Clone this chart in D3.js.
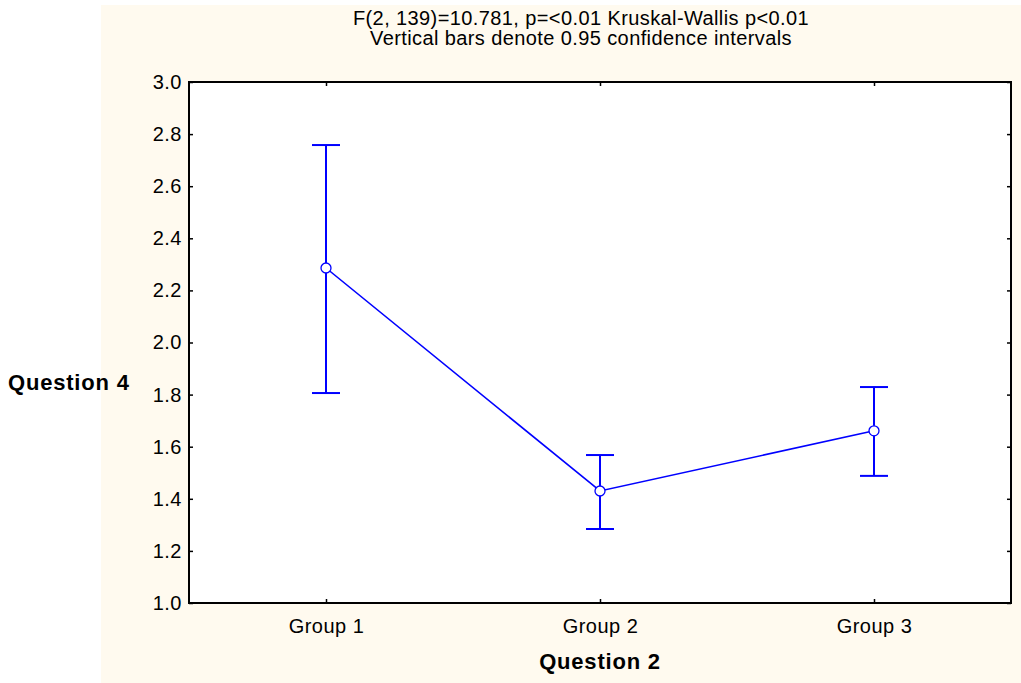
<!DOCTYPE html>
<html><head><meta charset="utf-8">
<script src="https://cdn.jsdelivr.net/npm/d3@7"></script>
<style>body{margin:0;background:#fff}svg{display:block}text{font-family:"Liberation Sans",Arial,sans-serif}</style>
</head><body>
<svg id="c" width="1021" height="683"></svg>
<script>
const categories = ["Group 1", "Group 2", "Group 3"];
const means = [2.286, 1.430, 1.661];
const upper = [2.758, 1.568, 1.829];
const lower = [1.806, 1.284, 1.488];
const yTicks = [1.0, 1.2, 1.4, 1.6, 1.8, 2.0, 2.2, 2.4, 2.6, 2.8, 3.0];
const titleLines = ["F(2, 139)=10.781, p=<0.01 Kruskal-Wallis p<0.01", "Vertical bars denote 0.95 confidence intervals"];
const xTitle = "Question 2", yTitle = "Question 4";

const svg = d3.select("#c");
const L = 189, T = 82, R = 1011, B = 603;
const blue = "#0000ff";

svg.append("rect").attr("x",101).attr("y",5).attr("width",920).attr("height",678).attr("fill","#fffaef");
svg.append("rect").attr("x",L).attr("y",T).attr("width",R-L).attr("height",B-T).attr("fill","#fff");

const x = d3.scalePoint().domain(categories).range([L,R]).padding(0.5);
const y = d3.scaleLinear().domain([1,3]).range([B,T]);

const fs = 20, ls = 0.5;
const gl = svg.append("g").attr("transform",`translate(${L},0)`)
  .call(d3.axisLeft(y).tickValues(yTicks).tickFormat(d3.format(".1f")).tickSize(-4).tickPadding(7));
const gr = svg.append("g").attr("transform",`translate(${R},0)`)
  .call(d3.axisRight(y).tickValues(yTicks).tickFormat("").tickSize(-4));
const gb = svg.append("g").attr("transform",`translate(0,${B})`)
  .call(d3.axisBottom(x).tickSize(-4).tickPadding(16));
const gt = svg.append("g").attr("transform",`translate(0,${T})`)
  .call(d3.axisTop(x).tickFormat("").tickSize(-4));
[gl,gr,gb,gt].forEach(g=>{
  g.select(".domain").remove();
  g.selectAll(".tick line").attr("stroke","#000").attr("stroke-width",1.5);
  g.selectAll(".tick text").attr("font-size",fs).attr("letter-spacing",ls).attr("fill","#000").attr("font-family","Liberation Sans, Arial, sans-serif");
});

svg.append("rect").attr("x",L).attr("y",T).attr("width",R-L).attr("height",B-T)
  .attr("fill","none").attr("stroke","#000").attr("stroke-width",2);

const data = categories.map((c,i)=>({c, m:means[i], u:upper[i], l:lower[i]}));
const eb = svg.append("g").attr("stroke",blue).attr("stroke-width",2).attr("fill","none");
data.forEach(d=>{
  const cx = x(d.c);
  eb.append("line").attr("x1",cx).attr("x2",cx).attr("y1",y(d.u)).attr("y2",y(d.l));
  eb.append("line").attr("x1",cx-14).attr("x2",cx+14).attr("y1",y(d.u)).attr("y2",y(d.u));
  eb.append("line").attr("x1",cx-14).attr("x2",cx+14).attr("y1",y(d.l)).attr("y2",y(d.l));
});
svg.append("path").datum(data)
  .attr("d", d3.line().x(d=>x(d.c)).y(d=>y(d.m)))
  .attr("fill","none").attr("stroke",blue).attr("stroke-width",1.6);
svg.append("g").selectAll("circle").data(data).join("circle")
  .attr("cx",d=>x(d.c)).attr("cy",d=>y(d.m)).attr("r",5)
  .attr("fill","#fff").attr("stroke",blue).attr("stroke-width",1.3);

svg.append("g").selectAll("text").data(titleLines).join("text")
  .attr("x",581).attr("y",(d,i)=>25+i*20).attr("text-anchor","middle")
  .attr("font-size",20).attr("letter-spacing",0.4).attr("fill","#000").text(d=>d);
svg.append("text").attr("x",600).attr("y",669).attr("text-anchor","middle")
  .attr("font-size",22).attr("letter-spacing",0.8).attr("font-weight","bold").text(xTitle);
svg.append("text").attr("x",8).attr("y",390).attr("text-anchor","start")
  .attr("font-size",22).attr("letter-spacing",0.8).attr("font-weight","bold").text(yTitle);
</script>
</body></html>
